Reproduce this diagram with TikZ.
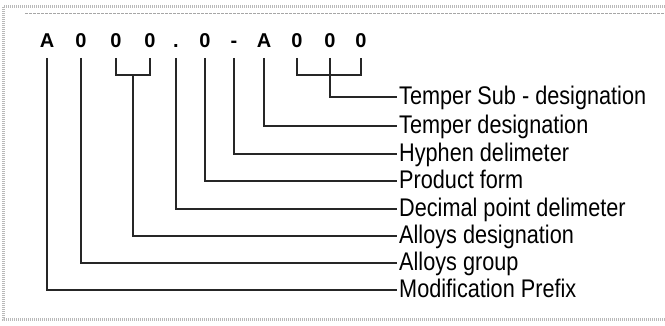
\documentclass[tikz,border=0pt]{standalone}
\usepackage{fontspec}
\usetikzlibrary{calc}
\newfontfamily\lblfont{Liberation Sans}[FakeStretch=0.85]
\newfontfamily\digfont{Liberation Sans}
\tikzset{
  ch/.style={font=\digfont\bfseries\fontsize{20}{20}\selectfont, inner sep=0pt, text height=14pt, text depth=0pt, anchor=south},
  lbl/.style={font=\lblfont\fontsize{25.5}{25.5}\selectfont, inner sep=0pt, anchor=base west},
  conn/.style={draw=black!85, line width=1.1pt},
  frame/.style={draw=gray!55, line width=3pt, dash pattern=on 1pt off 1pt},
  frameline/.style={draw=gray!70, line width=0.8pt, dash pattern=on 3pt off 1pt}
}
\begin{document}
\begin{tikzpicture}[x=1pt,y=-1pt]
\useasboundingbox (0,0) rectangle (665,326);
% frame
\draw[frame] (665,7) -- (3,7) -- (3,320) -- (665,320);
\draw[frameline] (25,13) -- (665,13);
% characters
\node[ch] (c1) at (47,48) {A};
\node[ch] (c2) at (81,48) {0};
\node[ch] (c3) at (116,48) {0};
\node[ch] (c4) at (150,48) {0};
\node[ch] (c5) at (176,48) {.};
\node[ch] (c6) at (205,48) {0};
\node[ch] (c7) at (234,48) {-};
\node[ch] (c8) at (264,48) {A};
\node[ch] (c9) at (297,48) {0};
\node[ch] (c10) at (330,48) {0};
\node[ch] (c11) at (361,48) {0};
% labels
\node[lbl] (l1) at (399,105) {Temper Sub - designation};
\node[lbl] (l2) at (399,134) {Temper designation};
\node[lbl] (l3) at (399,162) {Hyphen delimeter};
\node[lbl] (l4) at (399,189) {Product form};
\node[lbl] (l5) at (399,217) {Decimal point delimeter};
\node[lbl] (l6) at (399,244) {Alloys designation};
\node[lbl] (l7) at (399,271) {Alloys group};
\node[lbl] (l8) at (399,298) {Modification Prefix};
% bracket midpoints
\coordinate (b1) at ($(c3.south)!0.5!(c4.south)+(0,27)$);
% connectors
\draw[conn] ([yshift=-10pt]c1.south) |- ([xshift=-2pt,yshift=8pt]l8.base west);
\draw[conn] ([yshift=-10pt]c2.south) |- ([xshift=-2pt,yshift=8pt]l7.base west);
\draw[conn] ([yshift=-10pt]c3.south) |- ([yshift=-27pt]c4.south) -- ([yshift=-10pt]c4.south);
\draw[conn] (b1) |- ([xshift=-2pt,yshift=8pt]l6.base west);
\draw[conn] ([yshift=-10pt]c5.south) |- ([xshift=-2pt,yshift=8pt]l5.base west);
\draw[conn] ([yshift=-10pt]c6.south) |- ([xshift=-2pt,yshift=8pt]l4.base west);
\draw[conn] ([yshift=-10pt]c7.south) |- ([xshift=-2pt,yshift=8pt]l3.base west);
\draw[conn] ([yshift=-10pt]c8.south) |- ([xshift=-2pt,yshift=8pt]l2.base west);
\draw[conn] ([yshift=-10pt]c9.south) |- ([yshift=-27pt]c11.south) -- ([yshift=-10pt]c11.south);
\draw[conn] ([yshift=-10pt]c10.south) |- ([xshift=-2pt,yshift=8pt]l1.base west);
\end{tikzpicture}
\end{document}
